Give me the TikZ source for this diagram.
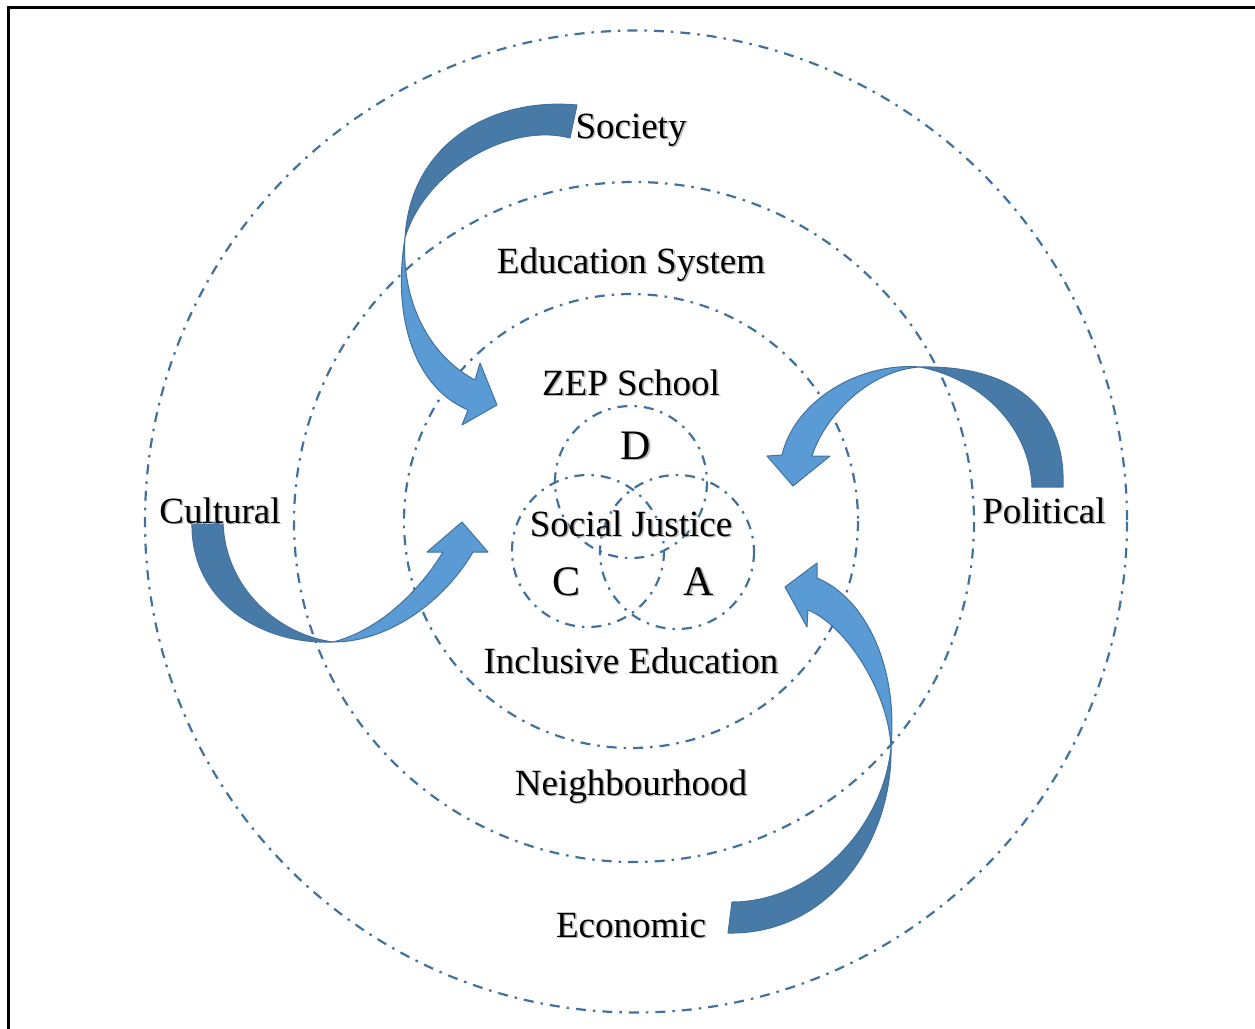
\documentclass[tikz,border=0pt]{standalone}
\usepackage{fontspec}
\setmainfont{Liberation Serif}
\begin{document}
\definecolor{ringblue}{RGB}{65,113,156}
\definecolor{arrowdark}{RGB}{72,122,168}
\definecolor{arrowlight}{RGB}{91,155,213}
\definecolor{arrowedge}{RGB}{65,113,156}
% a label with a faint drop shadow behind it
\newcommand\shadowlabel[4]{%
  \node[#3,text=black!28,xshift=1.6pt,yshift=-1.6pt] at (#2) {#4};
  \node[#3] (#1) at (#2) {#4};}
\begin{tikzpicture}[x=1pt,y=-1pt,
  ring/.style={draw=ringblue,line width=2.2pt,
    dash pattern=on 10pt off 7pt on 2.5pt off 7pt},
  backface/.style={fill=arrowdark,draw=arrowedge,line width=1pt,line join=round},
  frontface/.style={fill=arrowlight,draw=arrowedge,line width=1pt,line join=round},
  lbl/.style={font=\fontsize{37}{44}\selectfont,inner sep=0pt,anchor=base},
  letter/.style={font=\fontsize{42}{48}\selectfont,inner sep=0pt,anchor=base}]
\useasboundingbox (0,0) rectangle (1255,1028);

% page frame
\draw[line width=3pt] (8,1030) -- (8,7.5) -- (1258,7.5);

% concentric rings
\coordinate (c0) at (636,521.5);
\coordinate (c1) at (634,522);
\coordinate (c2) at (631,521);
\draw[ring] (c0) circle (491);
\draw[ring] (c1) circle (340);
\draw[ring] (c2) circle (227);

% three overlapping circles
\coordinate (cd) at (631,482);
\coordinate (cc) at (588,551);
\coordinate (ca) at (677,552);
\draw[ring] (cd) circle (76);
\draw[ring] (cc) circle (76);
\draw[ring] (ca) circle (77);

% curved arrow: Society
\path[backface] (577,105) .. controls (490,97) and (410,145) .. (405,238)
  .. controls (425,170) and (510,122) .. (570,138) -- cycle;
\path[frontface] (405,238) .. controls (393,310) and (410,385) .. (468,410)
  -- (462,425) -- (497,405) -- (480,363) -- (475,380)
  .. controls (428,355) and (401,300) .. (405,238) -- cycle;

% curved arrow: Political
\path[backface] (1063,487) .. controls (1066,410) and (1015,365) .. (920,367)
  .. controls (985,380) and (1030,430) .. (1032,487) -- cycle;
\path[frontface] (920,367) .. controls (860,362) and (795,400) .. (782,455)
  -- (767,456) -- (793,486) -- (830,456) -- (812,456)
  .. controls (825,415) and (870,370) .. (920,367) -- cycle;

% curved arrow: Cultural
\path[backface] (192,522) .. controls (190,600) and (260,645) .. (333,642)
  .. controls (280,635) and (225,590) .. (223,522) -- cycle;
\path[frontface] (333,642) .. controls (390,642) and (445,600) .. (473,552)
  -- (488,552) -- (462,522) -- (427,552) -- (443,552)
  .. controls (420,590) and (380,630) .. (333,642) -- cycle;

% curved arrow: Economic
\path[backface] (728,933) .. controls (830,935) and (893,840) .. (891,747)
  .. controls (884,825) and (815,902) .. (732,902) -- cycle;
\path[frontface] (891,747) .. controls (898,665) and (865,598) .. (817,578)
  -- (817,563) -- (785,587) -- (807,627) -- (808,610)
  .. controls (845,625) and (888,690) .. (891,747) -- cycle;

% labels
\shadowlabel{society}{631,138}{lbl}{Society}
\shadowlabel{edsys}{631,273}{lbl}{Education System}
\shadowlabel{zep}{631,395}{lbl}{ZEP School}
\shadowlabel{d}{636,459}{letter}{D}
\shadowlabel{sj}{631,536}{lbl}{Social Justice}
\shadowlabel{c}{566,595}{letter}{C}
\shadowlabel{a}{699,595}{letter}{A}
\shadowlabel{incl}{631,673}{lbl}{Inclusive Education}
\shadowlabel{neigh}{631,795}{lbl}{Neighbourhood}
\shadowlabel{econ}{631,937}{lbl}{Economic}
\shadowlabel{cult}{220,523}{lbl}{Cultural}
\shadowlabel{pol}{1044,523}{lbl}{Political}
\end{tikzpicture}
\end{document}
